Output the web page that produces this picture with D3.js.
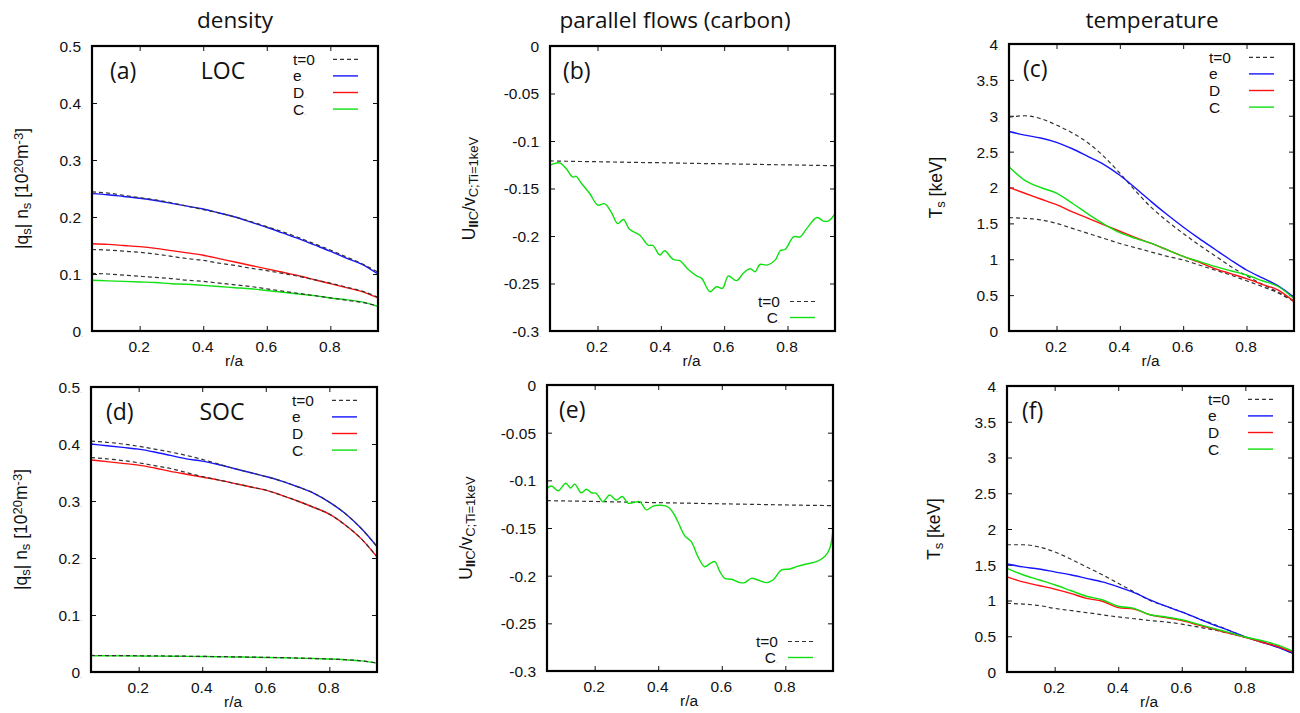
<!DOCTYPE html>
<html>
<head>
<meta charset="utf-8">
<script src="https://cdn.jsdelivr.net/npm/d3@7"></script>
<style>
  body { margin: 0; background: #fff; }
  svg { display: block; }
  .title { font-family: "Open Sans", sans-serif; font-size: 22.5px; fill: #111; }
  .plabel { font-family: "Open Sans", sans-serif; font-size: 23px; fill: #111; }
  .tick text, .leg, .axlab { font-family: "Liberation Sans", Arial, sans-serif; fill: #111; }
</style>
</head>
<body>
<svg id="chart" width="1300" height="713"></svg>
<script>
/*********************/
/*** DATA          ***/
/*********************/

// common radial grid r/a
let xr = [0.05, 0.10, 0.15, 0.20, 0.25, 0.30, 0.35, 0.40, 0.45, 0.50, 0.55, 0.60, 0.65, 0.70, 0.75, 0.80, 0.85, 0.90, 0.95];
let xTicks = [0.2, 0.4, 0.6, 0.8];

// (a) density, LOC
let aE0 = [0.244, 0.242, 0.238, 0.234, 0.230, 0.225, 0.219, 0.213, 0.207, 0.200, 0.192, 0.183, 0.174, 0.164, 0.153, 0.142, 0.130, 0.118, 0.103];
let aE  = [0.241, 0.239, 0.236, 0.233, 0.229, 0.224, 0.219, 0.214, 0.207, 0.200, 0.191, 0.182, 0.172, 0.162, 0.151, 0.140, 0.128, 0.117, 0.100];
let aD0 = [0.143, 0.142, 0.140, 0.138, 0.135, 0.131, 0.127, 0.124, 0.119, 0.115, 0.110, 0.106, 0.101, 0.096, 0.090, 0.084, 0.077, 0.070, 0.059];
let aD  = [0.153, 0.152, 0.150, 0.148, 0.145, 0.141, 0.137, 0.133, 0.127, 0.121, 0.115, 0.109, 0.103, 0.097, 0.090, 0.083, 0.076, 0.069, 0.058];
let aC0 = [0.101, 0.100, 0.098, 0.096, 0.094, 0.092, 0.089, 0.087, 0.084, 0.081, 0.078, 0.074, 0.070, 0.066, 0.062, 0.058, 0.054, 0.050, 0.044];
let aC  = [0.089, 0.088, 0.087, 0.086, 0.085, 0.083, 0.082, 0.080, 0.078, 0.076, 0.074, 0.071, 0.068, 0.065, 0.062, 0.058, 0.055, 0.051, 0.043];

// (b) parallel flow of carbon, LOC
let bT0 = [-0.1210, -0.1213, -0.1216, -0.1218, -0.1221, -0.1224, -0.1227, -0.1229, -0.1232, -0.1235, -0.1238, -0.1240, -0.1243, -0.1246, -0.1249, -0.1251, -0.1254, -0.1257, -0.1260];
let bX = [0.050, 0.080, 0.101, 0.122, 0.132, 0.148, 0.175, 0.201, 0.222, 0.243, 0.264, 0.282, 0.301, 0.333, 0.360, 0.375, 0.397, 0.412, 0.439, 0.460, 0.486,
          0.513, 0.529, 0.555, 0.576, 0.595, 0.613, 0.639, 0.661, 0.682, 0.698, 0.713, 0.735, 0.761, 0.777, 0.793, 0.819, 0.840, 0.861, 0.893, 0.914, 0.930, 0.951];
let bC = [-0.1255, -0.1230, -0.1290, -0.1380, -0.1370, -0.1440, -0.1550, -0.1675, -0.1660, -0.1745, -0.1870, -0.1826, -0.1930, -0.1990, -0.2096, -0.2100, -0.2200, -0.2155, -0.2247, -0.2260, -0.2350,
          -0.2420, -0.2446, -0.2587, -0.2534, -0.2550, -0.2422, -0.2470, -0.2390, -0.2345, -0.2376, -0.2300, -0.2306, -0.2254, -0.2155, -0.2140, -0.2008, -0.2008, -0.1920, -0.1805, -0.1844, -0.1840, -0.1763];

// (c) temperature, LOC
let cTe0 = [2.98, 3.00, 2.96, 2.87, 2.76, 2.62, 2.43, 2.20, 1.95, 1.72, 1.53, 1.36, 1.20, 1.05, 0.90, 0.77, 0.65, 0.54, 0.42];
let cTe  = [2.78, 2.73, 2.69, 2.63, 2.54, 2.43, 2.32, 2.17, 1.99, 1.80, 1.62, 1.45, 1.29, 1.14, 0.99, 0.85, 0.74, 0.63, 0.47];
let cTi0 = [1.58, 1.57, 1.55, 1.50, 1.43, 1.36, 1.29, 1.22, 1.16, 1.10, 1.04, 0.99, 0.92, 0.85, 0.78, 0.70, 0.62, 0.53, 0.41];
let cTD  = [2.00, 1.92, 1.84, 1.76, 1.66, 1.57, 1.48, 1.39, 1.30, 1.22, 1.13, 1.04, 0.96, 0.87, 0.80, 0.73, 0.65, 0.57, 0.41];
let cTC  = [2.29, 2.10, 2.00, 1.92, 1.78, 1.63, 1.49, 1.37, 1.29, 1.22, 1.13, 1.04, 0.97, 0.90, 0.84, 0.78, 0.70, 0.62, 0.45];

// (d) density, SOC
let dE0 = [0.405, 0.403, 0.400, 0.396, 0.391, 0.386, 0.380, 0.373, 0.365, 0.357, 0.350, 0.343, 0.335, 0.325, 0.314, 0.298, 0.278, 0.252, 0.220];
let dE  = [0.400, 0.397, 0.394, 0.391, 0.386, 0.380, 0.374, 0.370, 0.364, 0.357, 0.350, 0.343, 0.335, 0.325, 0.314, 0.298, 0.278, 0.252, 0.220];
let dD0 = [0.376, 0.374, 0.371, 0.367, 0.362, 0.357, 0.350, 0.343, 0.337, 0.331, 0.325, 0.319, 0.310, 0.300, 0.289, 0.277, 0.258, 0.234, 0.202];
let dD  = [0.372, 0.369, 0.366, 0.363, 0.358, 0.352, 0.347, 0.342, 0.337, 0.331, 0.325, 0.319, 0.310, 0.300, 0.289, 0.277, 0.258, 0.234, 0.202];
let dC0 = [0.0290, 0.0289, 0.0287, 0.0285, 0.0283, 0.0280, 0.0277, 0.0274, 0.0270, 0.0266, 0.0262, 0.0257, 0.0252, 0.0245, 0.0237, 0.0228, 0.0215, 0.0197, 0.0160];
let dC  = [0.0285, 0.0284, 0.0283, 0.0281, 0.0279, 0.0277, 0.0275, 0.0272, 0.0268, 0.0264, 0.0260, 0.0255, 0.0250, 0.0244, 0.0236, 0.0227, 0.0214, 0.0195, 0.0155];

// (e) parallel flow of carbon, SOC
let eT0 = [-0.1213, -0.1216, -0.1219, -0.1222, -0.1225, -0.1228, -0.1231, -0.1234, -0.1237, -0.1240, -0.1243, -0.1246, -0.1249, -0.1252, -0.1255, -0.1258, -0.1261, -0.1263, -0.1266];
let eX = [0.050, 0.064, 0.085, 0.109, 0.124, 0.137, 0.158, 0.174, 0.190, 0.205, 0.226, 0.247, 0.268, 0.287, 0.305, 0.321, 0.342, 0.363, 0.384, 0.410, 0.431, 0.447,
          0.462, 0.483, 0.504, 0.525, 0.546, 0.564, 0.578, 0.594, 0.609, 0.630, 0.657, 0.672, 0.693, 0.714, 0.741, 0.761, 0.788, 0.814, 0.835, 0.866, 0.898, 0.924, 0.940, 0.950];
let eC = [-0.1084, -0.1060, -0.1110, -0.1030, -0.1080, -0.1040, -0.1130, -0.1094, -0.1130, -0.1136, -0.1224, -0.1154, -0.1206, -0.1170, -0.1240, -0.1234, -0.1224, -0.1310, -0.1270, -0.1262, -0.1280, -0.1340,
          -0.1434, -0.1580, -0.1643, -0.1800, -0.1906, -0.1870, -0.1853, -0.1958, -0.2028, -0.2038, -0.2073, -0.2073, -0.2028, -0.2045, -0.2073, -0.2045, -0.1940, -0.1930, -0.1906, -0.1878, -0.1853, -0.1800, -0.1713, -0.1520];

// (f) temperature, SOC
let fTe0 = [1.78, 1.78, 1.75, 1.68, 1.58, 1.47, 1.36, 1.24, 1.12, 1.00, 0.92, 0.84, 0.75, 0.67, 0.58, 0.49, 0.42, 0.35, 0.26];
let fTe  = [1.51, 1.47, 1.44, 1.40, 1.36, 1.31, 1.26, 1.19, 1.11, 1.01, 0.92, 0.84, 0.75, 0.66, 0.58, 0.49, 0.42, 0.35, 0.26];
let fTi0 = [0.96, 0.95, 0.93, 0.89, 0.86, 0.83, 0.80, 0.77, 0.745, 0.72, 0.70, 0.67, 0.63, 0.59, 0.54, 0.485, 0.43, 0.36, 0.26];
let fTD  = [1.33, 1.26, 1.21, 1.16, 1.10, 1.03, 0.99, 0.90, 0.88, 0.80, 0.76, 0.72, 0.66, 0.60, 0.54, 0.485, 0.42, 0.36, 0.275];
let fTC  = [1.45, 1.36, 1.29, 1.22, 1.14, 1.06, 1.01, 0.92, 0.89, 0.80, 0.77, 0.73, 0.67, 0.61, 0.55, 0.49, 0.44, 0.38, 0.29];

// y tick values / labels
let densTicks = [0, 0.1, 0.2, 0.3, 0.4, 0.5];
let flowTicks = [0, -0.05, -0.1, -0.15, -0.2, -0.25, -0.3];
let tempTicks = [0, 0.5, 1, 1.5, 2, 2.5, 3, 3.5, 4];

let titles = ["density", "parallel flows (carbon)", "temperature"];
let speciesNames = ["t=0", "e", "D", "C"];

/*********************/
/*** STYLE         ***/
/*********************/

let col = {t0: "#333", e: "#1515ff", D: "#ff1010", C: "#10e010"};
let svg = d3.select("#chart");

/********************************/
/*** HELPERS                  ***/
/********************************/

function add_dot(sel) {
    // gnuplot leaves a tiny grey dot after every label
    sel.append("tspan").attr("font-size", 7).attr("fill", "#999").text(".");
}

function draw_panel(p) {
    let x = d3.scaleLinear().domain([0.05, 0.95]).range([p.left, p.right]),
        y = d3.scaleLinear().domain(p.ydom).range([p.bottom, p.top]);

    let g = svg.append("g");
    let fmt = (d) => String(d);

    // bottom axis with labels, ticks pointing in
    let gx = g.append("g")
        .attr("transform", `translate(0, ${p.bottom})`)
        .call(d3.axisBottom(x).tickValues(xTicks).tickSize(-5).tickPadding(10).tickFormat(fmt));
    gx.selectAll("text").attr("font-size", 15.5).each(function() { add_dot(d3.select(this)); });
    g.append("g")
        .attr("transform", `translate(0, ${p.top})`)
        .call(d3.axisTop(x).tickValues(xTicks).tickSize(-5).tickFormat(""));

    let gy = g.append("g")
        .attr("transform", `translate(${p.left}, 0)`)
        .call(d3.axisLeft(y).tickValues(p.yticks).tickSize(-5).tickPadding(9).tickFormat(fmt));
    gy.selectAll("text").attr("font-size", 15.5).attr("dy", "0.35em").each(function() { add_dot(d3.select(this)); });
    g.append("g")
        .attr("transform", `translate(${p.right}, 0)`)
        .call(d3.axisRight(y).tickValues(p.yticks).tickSize(-5).tickFormat(""));

    g.selectAll(".domain").remove();
    g.selectAll(".tick line").attr("stroke", "#111").attr("stroke-width", 1);
    g.selectAll(".tick text").attr("fill", "#111").attr("font-family", "Liberation Sans, Arial, sans-serif");

    // curves
    let curve = p.wiggly ? d3.curveCatmullRom.alpha(0.5) : d3.curveMonotoneX;
    p.series.forEach((s) => {
        let line = d3.line()
            .x((d, i) => x(s.xs[i]))
            .y((d) => y(d))
            .curve(curve);
        g.append("path")
            .attr("d", line(s.ys))
            .attr("fill", "none")
            .attr("stroke", col[s.key])
            .attr("stroke-width", s.key === "t0" ? 1.2 : 1.4)
            .attr("stroke-dasharray", s.key === "t0" ? "4,3" : null);
    });

    // frame
    g.append("rect")
        .attr("x", p.left).attr("y", p.top)
        .attr("width", p.right - p.left).attr("height", p.bottom - p.top)
        .attr("fill", "none").attr("stroke", "#000").attr("stroke-width", 2.2);

    // key
    p.legend.forEach((k, i) => {
        let ly = p.legTop ? p.top + 13.3 + i * 16.6 : p.bottom - 13.5 - (p.legend.length - 1 - i) * 16;
        let t = g.append("text").classed("leg", true)
            .attr("font-size", 15.5)
            .attr("dy", "0.35em")
            .attr("y", ly)
            .text(k.name);
        if (p.legTop) t.attr("x", p.right - 85);
        else t.attr("x", p.right - 55).attr("text-anchor", "end");
        if (k.name !== "t=0") add_dot(t);
        g.append("line")
            .attr("x1", p.right - 45).attr("x2", p.right - 20)
            .attr("y1", ly).attr("y2", ly)
            .attr("stroke", col[k.key])
            .attr("stroke-width", k.key === "t0" ? 1.2 : 1.4)
            .attr("stroke-dasharray", k.key === "t0" ? "4,3" : null);
    });

    // panel tag and regime
    g.append("text").classed("plabel", true)
        .attr("x", p.left + p.tagDx).attr("y", p.top + 25)
        .attr("dy", "0.35em")
        .text(p.tag);
    if (p.regime) {
        g.append("text").classed("plabel", true)
            .attr("x", p.left + 131).attr("y", p.top + 25)
            .attr("dy", "0.35em")
            .attr("text-anchor", "middle")
            .text(p.regime);
    }

    // axis labels
    g.append("text").classed("axlab", true)
        .attr("x", (p.left + p.right) / 2).attr("y", p.bottom + 35)
        .attr("font-size", 15.5)
        .attr("text-anchor", "middle")
        .text("r/a").call(add_dot);

    let yl = g.append("text").classed("axlab", true)
        .attr("transform", `translate(${p.ylx}, ${(p.top + p.bottom) / 2}) rotate(-90)`)
        .attr("font-size", 17.5)
        .attr("text-anchor", "middle");
    p.ylab(yl);
}

// rich y labels with sub/superscripts
function part(sel, txt, shift, size, bold) {
    let t = sel.append("tspan").text(txt);
    if (shift) t.attr("baseline-shift", shift);
    if (size) t.attr("font-size", size);
    if (bold) t.attr("font-weight", "bold");
    return t;
}
function dens_label(t) {
    part(t, "|q"); part(t, "s", "-25%", 13); part(t, "| n"); part(t, "s", "-25%", 13);
    part(t, " [10"); part(t, "20", "40%", 13); part(t, "m"); part(t, "-3", "40%", 13); part(t, "]");
}
function flow_label(t) {
    part(t, "U"); part(t, "II", "-25%", 13, true); part(t, "C", "-25%", 13); part(t, "/v");
    part(t, "C;Ti=1keV", "-25%", 13);
}
function temp_label(t) {
    part(t, "T"); part(t, "s", "-25%", 13); part(t, " [keV]");
}

function dens_series(e0, e, d0, d, c0, c) {
    return [
        {key: "e", xs: xr, ys: e}, {key: "D", xs: xr, ys: d}, {key: "C", xs: xr, ys: c},
        {key: "t0", xs: xr, ys: e0}, {key: "t0", xs: xr, ys: d0}, {key: "t0", xs: xr, ys: c0}
    ];
}

let fullKey = speciesNames.map((n, i) => ({name: n, key: ["t0", "e", "D", "C"][i]}));
let flowKey = [{name: "t=0", key: "t0"}, {name: "C", key: "C"}];

/*********************************/
/*** PANELS                    ***/
/*********************************/

let panels = [
    {left: 92, top: 46, right: 378, bottom: 331, ydom: [0, 0.5], yticks: densTicks, tag: "(a)", tagDx: 18, regime: "LOC",
     ylx: 28, ylab: dens_label, legend: fullKey, legTop: true, series: dens_series(aE0, aE, aD0, aD, aC0, aC)},
    {left: 550, top: 46, right: 835, bottom: 331, ydom: [-0.3, 0], yticks: flowTicks, tag: "(b)", tagDx: 13,
     ylx: 475, ylab: flow_label, legend: flowKey, legTop: false, wiggly: true,
     series: [{key: "t0", xs: xr, ys: bT0}, {key: "C", xs: bX, ys: bC}]},
    {left: 1009, top: 44, right: 1294, bottom: 331, ydom: [0, 4], yticks: tempTicks, tag: "(c)", tagDx: 14,
     ylx: 942, ylab: temp_label, legend: fullKey, legTop: true,
     series: [{key: "t0", xs: xr, ys: cTe0}, {key: "t0", xs: xr, ys: cTi0}, {key: "e", xs: xr, ys: cTe},
              {key: "D", xs: xr, ys: cTD}, {key: "C", xs: xr, ys: cTC}]},
    {left: 91, top: 387, right: 377, bottom: 672, ydom: [0, 0.5], yticks: densTicks, tag: "(d)", tagDx: 15, regime: "SOC",
     ylx: 27, ylab: dens_label, legend: fullKey, legTop: true, series: dens_series(dE0, dE, dD0, dD, dC0, dC)},
    {left: 547, top: 385, right: 833, bottom: 671, ydom: [-0.3, 0], yticks: flowTicks, tag: "(e)", tagDx: 12,
     ylx: 472, ylab: flow_label, legend: flowKey, legTop: false, wiggly: true,
     series: [{key: "t0", xs: xr, ys: eT0}, {key: "C", xs: eX, ys: eC}]},
    {left: 1007, top: 386, right: 1293, bottom: 672, ydom: [0, 4], yticks: tempTicks, tag: "(f)", tagDx: 15,
     ylx: 940, ylab: temp_label, legend: fullKey, legTop: true,
     series: [{key: "t0", xs: xr, ys: fTe0}, {key: "t0", xs: xr, ys: fTi0}, {key: "e", xs: xr, ys: fTe},
              {key: "D", xs: xr, ys: fTD}, {key: "C", xs: xr, ys: fTC}]}
];

panels.forEach(draw_panel);

// column titles
[235, 675, 1152].forEach((cx, i) => {
    svg.append("text").classed("title", true)
        .attr("x", cx).attr("y", 20)
        .attr("dy", "0.35em")
        .attr("text-anchor", "middle")
        .text(titles[i]);
});
</script>
</body>
</html>
